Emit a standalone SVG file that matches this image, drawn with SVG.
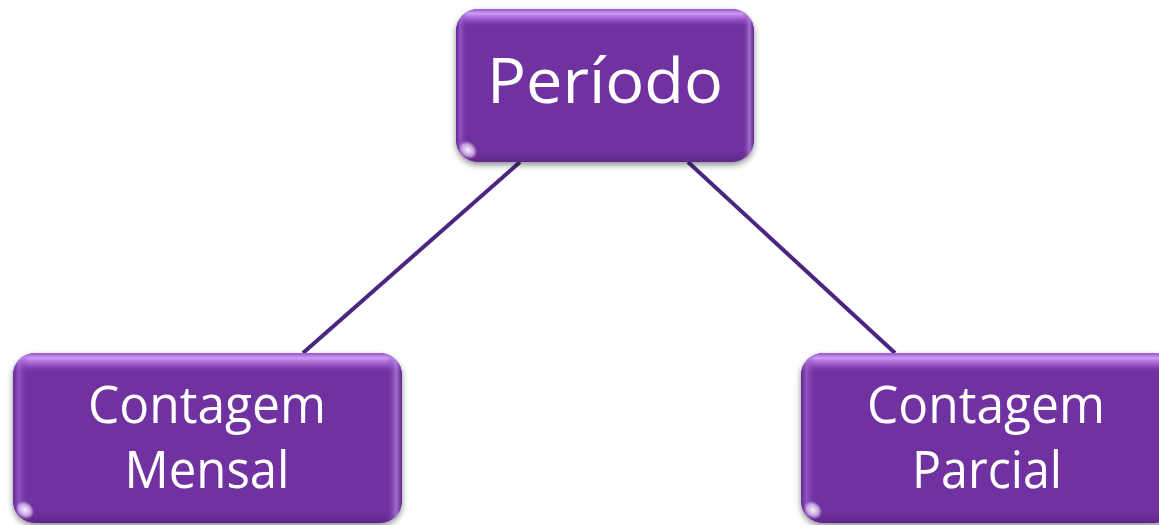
<svg xmlns="http://www.w3.org/2000/svg" width="1159" height="525" viewBox="0 0 1159 525">
<defs>
<style>
.box{fill:#7030a0}
.vg{fill:url(#vg)}
.hg{fill:url(#hg)}
.lbl{font-family:"Open Sans","Noto Sans",sans-serif;fill:#ffffff;text-anchor:middle}
.conn{stroke:#4b2680;stroke-width:4;fill:none}
</style>
<filter id="sh" x="-10%" y="-10%" width="120%" height="130%">
<feGaussianBlur in="SourceAlpha" stdDeviation="3"/>
<feOffset dx="0" dy="3" result="b"/>
<feComponentTransfer><feFuncA type="linear" slope="0.45"/></feComponentTransfer>
<feMerge><feMergeNode/><feMergeNode in="SourceGraphic"/></feMerge>
</filter>
<linearGradient id="vg" x1="0" y1="0" x2="0" y2="1">
<stop offset="0" stop-color="#9a58d0" stop-opacity="0.9"/>
<stop offset="0.03" stop-color="#d9a6ff" stop-opacity="0.9"/>
<stop offset="0.07" stop-color="#b070e0" stop-opacity="0.6"/>
<stop offset="0.12" stop-color="#7030a0" stop-opacity="0"/>
<stop offset="0.9" stop-color="#7030a0" stop-opacity="0"/>
<stop offset="1" stop-color="#4a1a70" stop-opacity="0.5"/>
</linearGradient>
<linearGradient id="hg" x1="0" y1="0" x2="1" y2="0">
<stop offset="0" stop-color="#5a2088" stop-opacity="0.6"/>
<stop offset="0.015" stop-color="#a56ad6" stop-opacity="0.6"/>
<stop offset="0.04" stop-color="#7030a0" stop-opacity="0"/>
<stop offset="0.96" stop-color="#7030a0" stop-opacity="0"/>
<stop offset="0.985" stop-color="#b888e0" stop-opacity="0.7"/>
<stop offset="1" stop-color="#5a2088" stop-opacity="0.6"/>
</linearGradient>
<radialGradient id="cg" cx="0.5" cy="0.5" r="0.5">
<stop offset="0" stop-color="#ffffff" stop-opacity="0.95"/>
<stop offset="0.6" stop-color="#f0d8ff" stop-opacity="0.7"/>
<stop offset="1" stop-color="#ffffff" stop-opacity="0"/>
</radialGradient>
</defs>
<g id="connectors">
<line class="conn" x1="520" y1="162" x2="303" y2="353"/>
<line class="conn" x1="688" y1="162" x2="895" y2="353"/>
</g>
<g id="node-periodo">
<g filter="url(#sh)"><rect class="box" x="456" y="9" width="298" height="153" rx="22"/></g>
<rect class="vg" x="456" y="9" width="298" height="153" rx="22"/>
<rect class="hg" x="456" y="9" width="298" height="153" rx="22"/>
<ellipse cx="468" cy="150" rx="10" ry="8" transform="rotate(45 468 150)" fill="url(#cg)"/>
<text class="lbl" x="605" y="103" font-size="63" textLength="236" lengthAdjust="spacingAndGlyphs">Período</text>
</g>
<g id="node-mensal">
<g filter="url(#sh)"><rect class="box" x="13" y="353" width="389" height="170" rx="22"/></g>
<rect class="vg" x="13" y="353" width="389" height="170" rx="22"/>
<rect class="hg" x="13" y="353" width="389" height="170" rx="22"/>
<ellipse cx="25" cy="510" rx="10" ry="8" transform="rotate(45 25 510)" fill="url(#cg)"/>
<text class="lbl" x="207" y="423" font-size="51" textLength="238" lengthAdjust="spacingAndGlyphs">Contagem</text>
<text class="lbl" x="207" y="488" font-size="51" textLength="165" lengthAdjust="spacingAndGlyphs">Mensal</text>
</g>
<g id="node-parcial">
<g filter="url(#sh)"><rect class="box" x="801" y="353" width="375" height="170" rx="22"/></g>
<rect class="vg" x="801" y="353" width="375" height="170" rx="22"/>
<rect class="hg" x="801" y="353" width="375" height="170" rx="22"/>
<ellipse cx="813" cy="510" rx="10" ry="8" transform="rotate(45 813 510)" fill="url(#cg)"/>
<text class="lbl" x="986" y="423" font-size="51" textLength="238" lengthAdjust="spacingAndGlyphs">Contagem</text>
<text class="lbl" x="987" y="488" font-size="51" textLength="150" lengthAdjust="spacingAndGlyphs">Parcial</text>
</g>
</svg>
